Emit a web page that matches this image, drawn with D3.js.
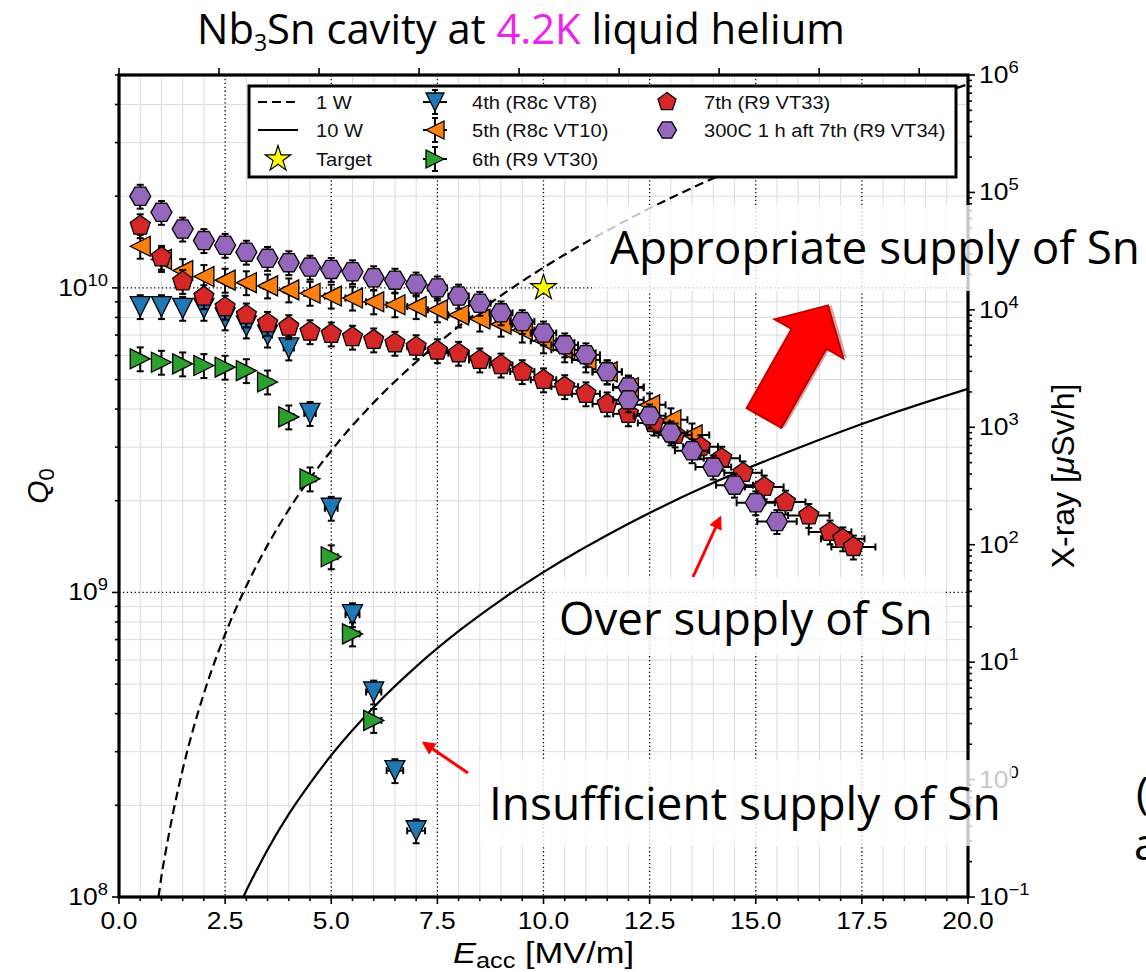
<!DOCTYPE html>
<html>
<head>
<meta charset="utf-8">
<script src="https://cdn.jsdelivr.net/npm/d3@7"></script>
<style>
  body { margin: 0; background: #ffffff; }
  svg { display: block; }
</style>
</head>
<body>
<svg id="chart" width="1146" height="972"></svg>
<script>
// ---------------- data ----------------
// Accelerating gradient (MV/m) and unloaded Q for each vertical test
const vt8E  = [0.5, 1.0, 1.5, 2.0, 2.5, 3.0, 3.5, 4.0, 4.5, 5.0, 5.5, 6.0, 6.5, 7.0];
const vt8Q  = [8.68e9, 8.68e9, 8.57e9, 8.57e9, 7.97e9, 7.5e9, 7.0e9, 6.35e9, 3.87e9, 1.89e9, 8.45e8, 4.71e8, 2.6e8, 1.65e8];

const vt10E = [0.5, 1.0, 1.5, 2.0, 2.5, 3.0, 3.5, 4.0, 4.5, 5.0, 5.5, 6.0, 6.5, 7.0, 7.5, 8.0, 8.5, 9.0, 9.5, 10.0, 10.5, 11.0, 11.5, 12.0, 12.5, 13.0, 13.5];
const vt10Q = [1.37e10, 1.24e10, 1.14e10, 1.09e10, 1.06e10, 1.04e10, 1.015e10, 9.85e9, 9.6e9, 9.4e9, 9.26e9, 9.0e9, 8.8e9, 8.68e9, 8.47e9, 8.15e9, 7.9e9, 7.6e9, 7.27e9, 6.7e9, 6.26e9, 5.8e9, 5.3e9, 4.7e9, 4.13e9, 3.69e9, 3.29e9];

const vt30E = [0.5, 1.0, 1.5, 2.0, 2.5, 3.0, 3.5, 4.0, 4.5, 5.0, 5.5, 6.0];
const vt30Q = [5.85e9, 5.70e9, 5.63e9, 5.56e9, 5.49e9, 5.35e9, 4.91e9, 3.77e9, 2.36e9, 1.31e9, 7.31e8, 3.80e8];

const vt33E = [0.5, 1.0, 1.5, 2.0, 2.5, 3.0, 3.5, 4.0, 4.5, 5.0, 5.5, 6.0, 6.5, 7.0, 7.5, 8.0, 8.5, 9.0, 9.5, 10.0, 10.5, 11.0, 11.5, 12.0, 12.6, 13.1, 13.7, 14.2, 14.7, 15.2, 15.7, 16.25, 16.75, 17.05, 17.3];
const vt33Q = [1.60e10, 1.26e10, 1.05e10, 9.36e9, 8.64e9, 8.15e9, 7.65e9, 7.46e9, 7.18e9, 7.06e9, 6.89e9, 6.75e9, 6.58e9, 6.41e9, 6.22e9, 6.10e9, 5.8e9, 5.58e9, 5.31e9, 4.99e9, 4.74e9, 4.49e9, 4.16e9, 3.86e9, 3.6e9, 3.29e9, 3.01e9, 2.76e9, 2.47e9, 2.22e9, 1.98e9, 1.79e9, 1.58e9, 1.50e9, 1.41e9];

const vt34E = [0.5, 1.0, 1.5, 2.0, 2.5, 3.0, 3.5, 4.0, 4.5, 5.0, 5.5, 6.0, 6.5, 7.0, 7.5, 8.0, 8.5, 9.0, 9.5, 10.0, 10.5, 11.0, 11.5, 12.0, 12.0, 12.5, 13.0, 13.5, 14.0, 14.5, 15.0, 15.5];
const vt34Q = [2.0e10, 1.77e10, 1.56e10, 1.43e10, 1.38e10, 1.31e10, 1.25e10, 1.21e10, 1.17e10, 1.15e10, 1.13e10, 1.08e10, 1.06e10, 1.03e10, 1.0e10, 9.4e9, 8.9e9, 8.28e9, 7.75e9, 7.11e9, 6.5e9, 6.03e9, 5.3e9, 4.73e9, 4.29e9, 3.8e9, 3.34e9, 2.92e9, 2.58e9, 2.25e9, 1.97e9, 1.71e9];

// relative measurement uncertainties used for the error bars
const qRelErr = 0.09;
const eRelErr = 0.03;

// target point
const targetE = [10.0];
const targetQ = [1.0e10];

// constant-dissipation curves, Q0 against Eacc
const oneWattE  = [0.93, 1.0, 1.1, 1.25, 1.5, 1.75, 2.0, 2.5, 3.0, 3.5, 4.0, 5.0, 6.0, 7.0, 8.0, 9.0, 10.0, 12.0, 14.0, 16.0, 18.0, 20.0];
const oneWattQ  = [1.0e8, 1.17e8, 1.41e8, 1.82e8, 2.62e8, 3.57e8, 4.66e8, 7.29e8, 1.05e9, 1.43e9, 1.87e9, 2.92e9, 4.2e9, 5.71e9, 7.46e9, 9.44e9, 1.166e10, 1.68e10, 2.29e10, 2.98e10, 3.78e10, 4.66e10];
const tenWattE  = [2.93, 3.0, 3.25, 3.5, 4.0, 4.5, 5.0, 6.0, 7.0, 8.0, 9.0, 10.0, 12.0, 14.0, 16.0, 18.0, 20.0];
const tenWattQ  = [1.0e8, 1.05e8, 1.23e8, 1.43e8, 1.87e8, 2.36e8, 2.92e8, 4.2e8, 5.71e8, 7.46e8, 9.44e8, 1.166e9, 1.68e9, 2.29e9, 2.98e9, 3.78e9, 4.66e9];

// axis ticks
const xTicks      = [0, 2.5, 5, 7.5, 10, 12.5, 15, 17.5, 20];
const qTicks      = [1e8, 1e9, 1e10];
const xrayTicks   = [1e-1, 1e0, 1e1, 1e2, 1e3, 1e4, 1e5, 1e6];
const bpkTicks    = [0, 10, 20, 30, 40, 50, 60, 70, 80];
const bpkPerEacc  = 4.244;   // mT per MV/m for the top axis

// legend labels
const seriesLabels = ["4th (R8c VT8)", "5th (R8c VT10)", "6th (R9 VT30)", "7th (R9 VT33)", "300C 1 h aft 7th (R9 VT34)"];
const curveLabels  = ["1 W", "10 W", "Target"];

// ---------------- layout ----------------
const svg = d3.select("#chart");
const P = { left: 119, right: 968, top: 75, bottom: 897 };
const FONT = "'Liberation Sans', Arial, Helvetica, sans-serif";
const SLIDE_FONT = "'Open Sans', 'Noto Sans', sans-serif";
const SX = 1.15;   // the figure is widened on the slide, so its lettering is too

const x    = d3.scaleLinear().domain([0, 20]).range([P.left, P.right]);
const y    = d3.scaleLog().domain([1e8, 5e10]).range([P.bottom, P.top]);
const yR   = d3.scaleLog().domain([1e-1, 1e6]).range([P.bottom, P.top]);
const xTop = d3.scaleLinear().domain([0, 20 * bpkPerEacc]).range([P.left, P.right]);

svg.append("rect").attr("width", 1146).attr("height", 972).attr("fill", "#fff");

svg.append("defs").append("clipPath").attr("id", "plotClip")
  .append("rect").attr("x", P.left).attr("y", P.top)
  .attr("width", P.right - P.left).attr("height", P.bottom - P.top);

// ---------------- grid ----------------
const grid = svg.append("g");
const minorX = d3.range(0.5, 20, 0.5).filter(v => Math.abs(v / 2.5 - Math.round(v / 2.5)) > 1e-6);
grid.selectAll(".gxm").data(minorX).join("line")
  .attr("x1", d => x(d)).attr("x2", d => x(d)).attr("y1", P.top).attr("y2", P.bottom)
  .attr("stroke", "#dcdcdc").attr("stroke-width", 1);

const minorQ = [];
[1e8, 1e9, 1e10].forEach(dec => { for (let k = 2; k <= 9; k++) { if (dec * k <= 5e10) minorQ.push(dec * k); } });
grid.selectAll(".gym").data(minorQ).join("line")
  .attr("x1", P.left).attr("x2", P.right).attr("y1", d => y(d)).attr("y2", d => y(d))
  .attr("stroke", "#dcdcdc").attr("stroke-width", 1);

grid.selectAll(".gxM").data(xTicks.slice(1, -1)).join("line")
  .attr("x1", d => x(d)).attr("x2", d => x(d)).attr("y1", P.top).attr("y2", P.bottom)
  .attr("stroke", "#000").attr("stroke-width", 1.3).attr("stroke-dasharray", "1.3,2.6");
grid.selectAll(".gyM").data([1e9, 1e10]).join("line")
  .attr("x1", P.left).attr("x2", P.right).attr("y1", d => y(d)).attr("y2", d => y(d))
  .attr("stroke", "#000").attr("stroke-width", 1.3).attr("stroke-dasharray", "1.3,2.6");

// ---------------- power curves ----------------
const curveLine = d3.line().x(d => x(d[0])).y(d => y(d[1])).curve(d3.curveMonotoneX);
const curves = svg.append("g").attr("clip-path", "url(#plotClip)");
curves.append("path").datum(d3.zip(oneWattE, oneWattQ)).attr("d", curveLine)
  .attr("fill", "none").attr("stroke", "#000").attr("stroke-width", 2.2).attr("stroke-dasharray", "9,5");
curves.append("path").datum(d3.zip(tenWattE, tenWattQ)).attr("d", curveLine)
  .attr("fill", "none").attr("stroke", "#000").attr("stroke-width", 2.2);

// ---------------- marker shapes ----------------
function polyPath(pts) { return "M" + pts.map(p => p[0].toFixed(2) + "," + p[1].toFixed(2)).join("L") + "Z"; }
function regular(n, r, startDeg) {
  const pts = [];
  for (let i = 0; i < n; i++) {
    const a = (startDeg + i * 360 / n) * Math.PI / 180;
    pts.push([r * Math.sin(a), -r * Math.cos(a)]);
  }
  return polyPath(pts);
}
function starPath(r, inner) {
  const pts = [];
  for (let i = 0; i < 10; i++) {
    const a = i * 36 * Math.PI / 180;
    const rr = i % 2 === 0 ? r : r * inner;
    pts.push([rr * Math.sin(a), -rr * Math.cos(a)]);
  }
  return polyPath(pts);
}
function markerPath(shape, s) {
  const h = s / 2;
  switch (shape) {
    case "down":  return polyPath([[0, h], [-h, -h], [h, -h]]);
    case "left":  return polyPath([[-h, 0], [h, -h], [h, h]]);
    case "right": return polyPath([[h, 0], [-h, -h], [-h, h]]);
    case "pent":  return regular(5, h * 1.05, 0);
    case "hex":   return regular(6, h * 1.05, 30);
    case "star":  return starPath(h * 1.35, 0.381966);
  }
}

const series = [
  { E: vt8E,  Q: vt8Q,  color: "#1f77b4", shape: "down",  label: seriesLabels[0] },
  { E: vt10E, Q: vt10Q, color: "#ff7f0e", shape: "left",  label: seriesLabels[1] },
  { E: vt30E, Q: vt30Q, color: "#2ca02c", shape: "right", label: seriesLabels[2] },
  { E: vt33E, Q: vt33Q, color: "#d62728", shape: "pent",  label: seriesLabels[3] },
  { E: vt34E, Q: vt34Q, color: "#9467bd", shape: "hex",   label: seriesLabels[4] }
];
const MS = 20;   // marker size in px
const CAP = 3.5; // half-width of error bar caps

const marks = svg.append("g").attr("clip-path", "url(#plotClip)");
series.forEach(s => {
  const pts = d3.zip(s.E, s.Q);
  const g = marks.append("g");
  // error bars
  const eb = g.selectAll("g.eb").data(pts).join("g").attr("stroke", "#000").attr("stroke-width", 2).attr("fill", "none");
  eb.append("line")
    .attr("x1", d => x(d[0])).attr("x2", d => x(d[0]))
    .attr("y1", d => y(d[1] * (1 - qRelErr))).attr("y2", d => y(d[1] * (1 + qRelErr)));
  eb.append("line")
    .attr("x1", d => x(d[0]) - CAP).attr("x2", d => x(d[0]) + CAP)
    .attr("y1", d => y(d[1] * (1 - qRelErr))).attr("y2", d => y(d[1] * (1 - qRelErr)));
  eb.append("line")
    .attr("x1", d => x(d[0]) - CAP).attr("x2", d => x(d[0]) + CAP)
    .attr("y1", d => y(d[1] * (1 + qRelErr))).attr("y2", d => y(d[1] * (1 + qRelErr)));
  eb.append("line")
    .attr("x1", d => x(d[0] * (1 - eRelErr))).attr("x2", d => x(d[0] * (1 + eRelErr)))
    .attr("y1", d => y(d[1])).attr("y2", d => y(d[1]));
  eb.append("line")
    .attr("x1", d => x(d[0] * (1 - eRelErr))).attr("x2", d => x(d[0] * (1 - eRelErr)))
    .attr("y1", d => y(d[1]) - CAP).attr("y2", d => y(d[1]) + CAP);
  eb.append("line")
    .attr("x1", d => x(d[0] * (1 + eRelErr))).attr("x2", d => x(d[0] * (1 + eRelErr)))
    .attr("y1", d => y(d[1]) - CAP).attr("y2", d => y(d[1]) + CAP);
  // markers
  g.selectAll("path.mk").data(pts).join("path")
    .attr("d", markerPath(s.shape, MS))
    .attr("transform", d => `translate(${x(d[0])},${y(d[1])})`)
    .attr("fill", s.color).attr("stroke", "#000").attr("stroke-width", 1.3);
});

// target star
svg.append("g").selectAll("path").data(d3.zip(targetE, targetQ)).join("path")
  .attr("d", markerPath("star", MS))
  .attr("transform", d => `translate(${x(d[0])},${y(d[1])})`)
  .attr("fill", "#ffff00").attr("stroke", "#000").attr("stroke-width", 1.2);

// ---------------- axes ----------------
const axes = svg.append("g");
function tick(x1, y1, x2, y2) {
  axes.append("line").attr("x1", x1).attr("y1", y1).attr("x2", x2).attr("y2", y2)
    .attr("stroke", "#000").attr("stroke-width", 1.6);
}
// bottom
d3.range(0, 20.001, 0.5).forEach(v => {
  const major = Math.abs(v / 2.5 - Math.round(v / 2.5)) < 1e-6;
  tick(x(v), P.bottom, x(v), P.bottom + (major ? 7 : 4));
});
// top (peak magnetic field scale)
bpkTicks.forEach(v => tick(xTop(v), P.top, xTop(v), P.top - 7));
// left
qTicks.forEach(v => tick(P.left, y(v), P.left - 7, y(v)));
minorQ.forEach(v => tick(P.left, y(v), P.left - 4, y(v)));
// right
xrayTicks.forEach(v => tick(P.right, yR(v), P.right + 7, yR(v)));
for (let e = -1; e < 6; e++) for (let k = 2; k <= 9; k++) {
  const v = k * Math.pow(10, e);
  tick(P.right, yR(v), P.right + 4, yR(v));
}

// frame
axes.append("rect").attr("x", P.left).attr("y", P.top)
  .attr("width", P.right - P.left).attr("height", P.bottom - P.top)
  .attr("fill", "none").attr("stroke", "#000").attr("stroke-width", 3.2);

// tick labels
const fmt = d3.format(".1f");
axes.selectAll(".xl").data(xTicks).join("text")
  .attr("transform", d => `translate(${x(d)},${P.bottom + 32}) scale(${SX},1)`)
  .attr("text-anchor", "middle").attr("font-family", FONT).attr("font-size", 23)
  .text(d => fmt(d));

function powerLabel(sel, exp) {
  sel.append("tspan").text("10");
  sel.append("tspan").attr("dy", -10).attr("font-size", 16).text(exp < 0 ? "\u2212" + (-exp) : String(exp));
}
qTicks.forEach(v => {
  const t = axes.append("text").attr("transform", `translate(${P.left - 11},${y(v) + 8}) scale(${SX},1)`)
    .attr("text-anchor", "end").attr("font-family", FONT).attr("font-size", 23);
  powerLabel(t, Math.round(Math.log10(v)));
});
xrayTicks.forEach(v => {
  const t = axes.append("text").attr("transform", `translate(${P.right + 11},${yR(v) + 8}) scale(${SX},1)`)
    .attr("text-anchor", "start").attr("font-family", FONT).attr("font-size", 23);
  powerLabel(t, Math.round(Math.log10(v)));
});

// axis titles
const xt = axes.append("text").attr("transform", `translate(${(P.left + P.right) / 2},963) scale(${SX},1)`)
  .attr("text-anchor", "middle").attr("font-family", FONT).attr("font-size", 30);
xt.append("tspan").attr("font-style", "italic").text("E");
xt.append("tspan").attr("dy", 5).attr("font-size", 22).text("acc");
xt.append("tspan").attr("dy", -5).text(" [MV/m]");

const yt = axes.append("text").attr("transform", `translate(48,${(P.top + P.bottom) / 2}) rotate(-90)`)
  .attr("text-anchor", "middle").attr("font-family", FONT).attr("font-size", 30);
yt.append("tspan").attr("font-style", "italic").text("Q");
yt.append("tspan").attr("dy", 6).attr("font-size", 22).text("0");

const yrt = axes.append("text").attr("transform", `translate(1074,${(P.top + P.bottom) / 2 - 10}) rotate(-90)`)
  .attr("text-anchor", "middle").attr("font-family", FONT).attr("font-size", 32);
yrt.append("tspan").text("X-ray [");
yrt.append("tspan").attr("font-style", "italic").text("\u03bc");
yrt.append("tspan").text("Sv/h]");

// ---------------- legend ----------------
const lg = svg.append("g");
lg.append("rect").attr("x", 249).attr("y", 86).attr("width", 707).attr("height", 91)
  .attr("fill", "#fff").attr("stroke", "#000").attr("stroke-width", 3);
const rows = [102, 130, 159];
const LFS = 17.5;
function legendText(tx, ty, str) {
  lg.append("text").attr("transform", `translate(${tx},${ty}) scale(${SX},1)`)
    .attr("font-family", FONT).attr("font-size", LFS).attr("fill", "#111").text(str);
}
// column 1: curves and target
lg.append("line").attr("x1", 258).attr("x2", 298).attr("y1", rows[0]).attr("y2", rows[0])
  .attr("stroke", "#000").attr("stroke-width", 2.2).attr("stroke-dasharray", "9,5");
lg.append("line").attr("x1", 258).attr("x2", 298).attr("y1", rows[1]).attr("y2", rows[1])
  .attr("stroke", "#000").attr("stroke-width", 2.2);
lg.append("path").attr("d", markerPath("star", MS)).attr("transform", `translate(278,${rows[2]})`)
  .attr("fill", "#ffff00").attr("stroke", "#000").attr("stroke-width", 1.2);
curveLabels.forEach((t, i) => legendText(316, rows[i] + 6.5, t));
// columns 2 and 3: measurement series
const legendPos = [[435, rows[0]], [435, rows[1]], [435, rows[2]], [667, rows[0]], [667, rows[1]]];
series.forEach((s, i) => {
  const [cx, cy] = legendPos[i];
  const g = lg.append("g").attr("transform", `translate(${cx},${cy})`);
  if (i < 3) {
    g.append("line").attr("x1", 0).attr("x2", 0).attr("y1", -12).attr("y2", 12).attr("stroke", "#000").attr("stroke-width", 2);
    g.append("line").attr("x1", -3).attr("x2", 3).attr("y1", -12).attr("y2", -12).attr("stroke", "#000").attr("stroke-width", 2);
    g.append("line").attr("x1", -3).attr("x2", 3).attr("y1", 12).attr("y2", 12).attr("stroke", "#000").attr("stroke-width", 2);
    g.append("line").attr("x1", -12).attr("x2", 12).attr("y1", 0).attr("y2", 0).attr("stroke", "#000").attr("stroke-width", 2);
  }
  g.append("path").attr("d", markerPath(s.shape, MS - 2))
    .attr("fill", s.color).attr("stroke", "#000").attr("stroke-width", 1.3);
  legendText(cx + 37, cy + 6.5, s.label);
});

// ---------------- slide annotations ----------------
function fitWidth(sel, w) {
  const cur = sel.node().getBBox().width;
  const fs = parseFloat(sel.attr("font-size"));
  sel.attr("font-size", fs * w / cur);
}

const title = svg.append("text").attr("x", 197).attr("y", 44)
  .attr("font-family", SLIDE_FONT).attr("font-size", 34).attr("fill", "#000");
title.append("tspan").text("Nb");
title.append("tspan").attr("dy", 7).attr("font-size", 23).text("3");
title.append("tspan").attr("dy", -7).text("Sn cavity at ");
title.append("tspan").attr("fill", "#ee22ee").text("4.2K");
title.append("tspan").text(" liquid helium");
fitWidth(title, 651);

const notes = svg.append("g");
notes.append("rect").attr("x", 592).attr("y", 205).attr("width", 560).attr("height", 86)
  .attr("fill", "#fff").attr("fill-opacity", 0.78);
notes.append("rect").attr("x", 545).attr("y", 577).attr("width", 400).attr("height", 78)
  .attr("fill", "#fff").attr("fill-opacity", 0.78);
notes.append("rect").attr("x", 480).attr("y", 760).attr("width", 532).attr("height", 86)
  .attr("fill", "#fff").attr("fill-opacity", 0.78);

const t1 = notes.append("text").attr("x", 610).attr("y", 264)
  .attr("font-family", SLIDE_FONT).attr("font-size", 42).text("Appropriate supply of Sn");
fitWidth(t1, 530);
const t2 = notes.append("text").attr("x", 559).attr("y", 635)
  .attr("font-family", SLIDE_FONT).attr("font-size", 42).text("Over supply of Sn");
fitWidth(t2, 374);
const t3 = notes.append("text").attr("x", 489).attr("y", 820)
  .attr("font-family", SLIDE_FONT).attr("font-size", 42).text("Insufficient supply of Sn");
fitWidth(t3, 512);

// text continuing past the slide edge
notes.append("text").attr("x", 1136).attr("y", 808).attr("font-family", SLIDE_FONT).attr("font-size", 44).text("(");
notes.append("text").attr("x", 1134).attr("y", 860).attr("font-family", SLIDE_FONT).attr("font-size", 44).text("a");

// big block arrow
const arrow = svg.append("g")
  .attr("transform", "translate(764,418) rotate(-60.4)");
arrow.append("path")
  .attr("d", "M0,-20 L91,-20 L91,-39.5 L129.5,0 L91,39.5 L91,20 L0,20 Z")
  .attr("transform", "translate(2,3)")
  .attr("fill", "#8a0000").attr("opacity", 0.35);
arrow.append("path")
  .attr("d", "M0,-20 L91,-20 L91,-39.5 L129.5,0 L91,39.5 L91,20 L0,20 Z")
  .attr("fill", "#ff0000").attr("stroke", "#c00000").attr("stroke-width", 2);

// thin pointer arrows
const defs = svg.select("defs");
defs.append("marker").attr("id", "redHead").attr("viewBox", "0 0 10 10")
  .attr("refX", 8).attr("refY", 5).attr("markerWidth", 4.5).attr("markerHeight", 4.5)
  .attr("orient", "auto-start-reverse")
  .append("path").attr("d", "M0,0 L10,5 L0,10 Z").attr("fill", "#ff0000");
notes.append("line").attr("x1", 693).attr("y1", 577).attr("x2", 720).attr("y2", 518)
  .attr("stroke", "#ff0000").attr("stroke-width", 3).attr("marker-end", "url(#redHead)");
notes.append("line").attr("x1", 468).attr("y1", 773).attr("x2", 424).attr("y2", 743)
  .attr("stroke", "#ff0000").attr("stroke-width", 3).attr("marker-end", "url(#redHead)");
</script>
</body>
</html>
